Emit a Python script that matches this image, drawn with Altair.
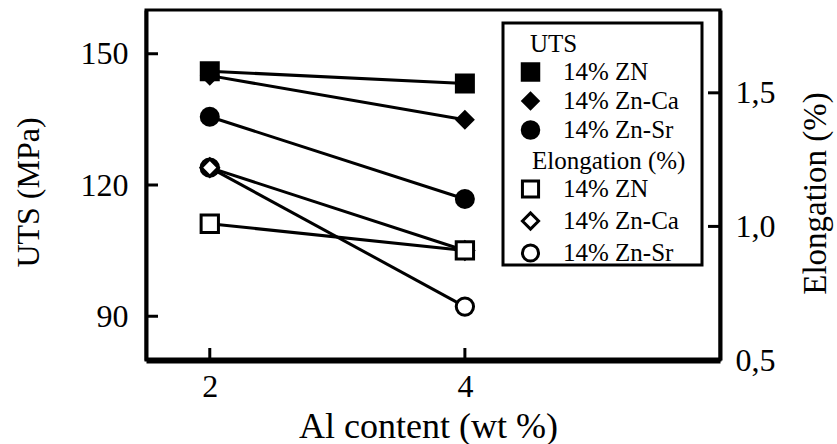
import altair as alt
import pandas as pd

# ---------------- data ----------------
al_content = [2, 4]
alloys = ["14% ZN", "14% Zn-Ca", "14% Zn-Sr"]
uts_zn = [146.0, 143.2]
uts_znca = [145.0, 134.9]
uts_znsr = [135.6, 116.8]
elong_zn = [1.01, 0.91]
elong_znca = [1.22, 0.91]
elong_znsr = [1.22, 0.70]
uts_ticks = [90, 120, 150]
elong_ticks = [0.5, 1.0, 1.5]
al_ticks = [2, 4]

uts_series = [uts_zn, uts_znca, uts_znsr]
elong_series = [elong_zn, elong_znca, elong_znsr]
draw_order = [2, 1, 0]  # ZN drawn last (on top)

rows_u, rows_e = [], []
for i in draw_order:
    for a, v in zip(al_content, uts_series[i]):
        rows_u.append({"Al": a, "UTS": v, "alloy": alloys[i]})
    for a, v in zip(al_content, elong_series[i]):
        rows_e.append({"Al": a, "Elong": v, "alloy_e": alloys[i]})
df_u = pd.DataFrame(rows_u)
df_e = pd.DataFrame(rows_e)

FONT = "'Liberation Serif', 'Times New Roman', Times, serif"
W, H = 574, 350
SHAPES = ["square", "diamond", "circle"]

x_enc = alt.X(
    "Al:Q",
    scale=alt.Scale(domain=[1.5, 6], nice=False, zero=False),
    axis=alt.Axis(values=al_ticks, format="d", title="Al content (wt %)",
                  labelPadding=11, titleX=282, titleY=49, titleFontSize=36,
                  domain=True, domainWidth=6, domainColor="black"),
)
y_uts = alt.Y(
    "UTS:Q",
    scale=alt.Scale(domain=[80, 160], nice=False, zero=False),
    axis=alt.Axis(values=uts_ticks, format="d", title="UTS (MPa)",
                  labelPadding=18, titleAngle=270, titleX=-108, titleY=182,
                  titleBaseline="alphabetic", titleFontSize=32,
                  domain=True, domainWidth=4, domainColor="black"),
)
y_el = alt.Y(
    "Elong:Q",
    scale=alt.Scale(domain=[0.5, 1.81], nice=False, zero=False),
    axis=alt.Axis(orient="right", values=elong_ticks,
                  labelExpr="replace(format(datum.value, '.1f'), '.', ',')",
                  title="Elongation (%)", labelPadding=15, titleAngle=270,
                  titleX=105, titleY=183, titleBaseline="alphabetic",
                  titleFontSize=33, domain=True, domainWidth=4,
                  domainColor="black"),
)

legend_u = alt.Legend(title="UTS", orient="none", legendX=384,
                      legendY=21.5, symbolSize=380, symbolFillColor="black",
                      symbolStrokeWidth=0, symbolOffset=-12)
legend_e = alt.Legend(title="Elongation (%)", orient="none",
                      legendX=386, legendY=138.5, symbolSize=260,
                      symbolStrokeWidth=3, symbolOffset=-14)

shape_u = alt.Shape("alloy:N", scale=alt.Scale(domain=alloys, range=SHAPES),
                    legend=legend_u)
shape_e = alt.Shape("alloy_e:N", scale=alt.Scale(domain=alloys, range=SHAPES),
                    legend=legend_e)
fill_e = alt.Fill("alloy_e:N",
                  scale=alt.Scale(domain=alloys, range=["white"] * 3),
                  legend=legend_e)
stroke_e = alt.Stroke("alloy_e:N",
                      scale=alt.Scale(domain=alloys, range=["black"] * 3),
                      legend=legend_e)

# legend frame
box = alt.Chart(pd.DataFrame({"k": [0]})).mark_rect(
    fill="white", stroke="black", strokeWidth=3
).encode(x=alt.value(357), x2=alt.value(556), y=alt.value(13), y2=alt.value(255))

uts_lines = alt.Chart(df_u).mark_line(color="black", strokeWidth=3).encode(
    x=x_enc, y=y_uts, detail="alloy:N")
uts_pts = alt.Chart(df_u).mark_point(
    filled=True, color="black", size=400, opacity=1).encode(
    x=x_enc, y=y_uts, shape=shape_u)
uts_tick_rule = alt.Chart(pd.DataFrame({"UTS": uts_ticks})).mark_rule(
    color="black", strokeWidth=3).encode(y=y_uts, x=alt.value(0), x2=alt.value(12))
al_tick_rule = alt.Chart(pd.DataFrame({"Al": al_ticks})).mark_rule(
    color="black", strokeWidth=3).encode(x=x_enc, y=alt.value(H), y2=alt.value(H - 12))

el_lines = alt.Chart(df_e).mark_line(color="black", strokeWidth=3).encode(
    x=x_enc, y=y_el, detail="alloy_e:N")
el_pts = alt.Chart(df_e).mark_point(
    filled=True, strokeWidth=3, size=300, opacity=1).encode(
    x=x_enc, y=y_el, shape=shape_e, fill=fill_e, stroke=stroke_e)
el_tick_rule = alt.Chart(pd.DataFrame({"Elong": elong_ticks})).mark_rule(
    color="black", strokeWidth=3).encode(y=y_el, x=alt.value(W), x2=alt.value(W - 12))

uts_group = alt.layer(box, uts_lines, uts_pts, uts_tick_rule, al_tick_rule)
el_group = alt.layer(el_lines, el_pts, el_tick_rule)

chart = alt.layer(uts_group, el_group).resolve_scale(
    y="independent", shape="independent", fill="independent",
    stroke="independent"
).properties(
    width=W, height=H,
    autosize=alt.AutoSizeParams(type="none"),
    padding={"left": 146, "top": 10, "right": 117, "bottom": 84},
    background="white",
).configure(
    font=FONT
).configure_axis(
    labelFont=FONT, titleFont=FONT, labelFontSize=32, labelColor="black",
    titleColor="black", titleFontWeight="normal", grid=False, ticks=False,
    tickSize=0,
).configure_view(
    stroke="black", strokeWidth=3
).configure_legend(
    labelFont=FONT, titleFont=FONT, labelFontSize=25, titleFontSize=25,
    titleFontWeight="normal", labelColor="black", titleColor="black",
    labelOffset=20, rowPadding=3, titlePadding=3, padding=0,
)

chart.save("out.html", embed_options={"renderer": "svg", "actions": False})
